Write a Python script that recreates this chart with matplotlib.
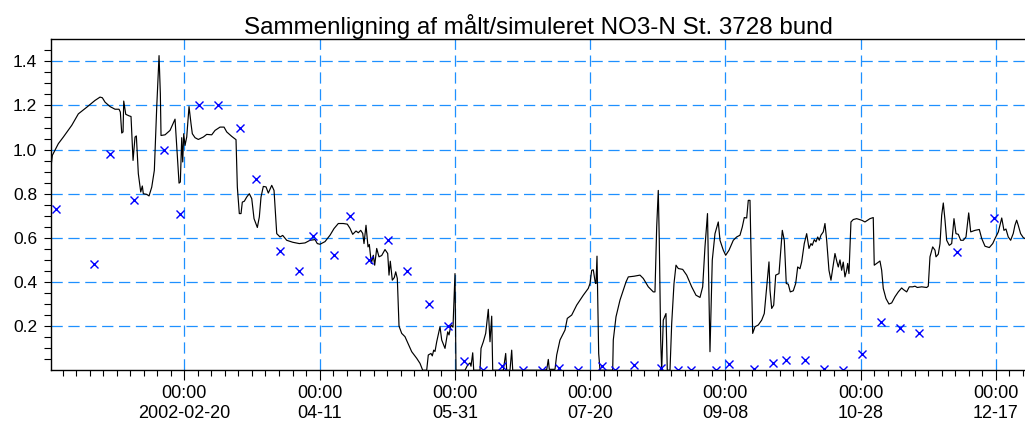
import numpy as np
import matplotlib
matplotlib.use('Agg')
import matplotlib.pyplot as plt
import matplotlib.dates as mdates
from matplotlib.ticker import FixedLocator, FixedFormatter

plt.rcParams['font.family'] = ['Liberation Sans', 'DejaVu Sans']

# dage efter 2002-01-01 00:00
sim_days = [0.74, 1.22, 3.44, 5.29, 8.39, 10.83, 13.93, 17.0, 18.85, 19.7, 20.7, 22.55, 24.39, 25.87, 26.35,
            26.87, 27.35, 27.61, 28.35, 29.57, 30.3, 31.05, 31.78, 32.27, 33.0, 33.89, 34.48, 34.85, 36.11,
            36.96, 37.96, 38.92, 39.8, 40.66, 41.14, 41.39, 42.87, 44.72, 46.57, 47.31, 48.05, 48.53, 49.04,
            49.41, 49.78, 50.26, 50.89, 51.74, 52.48, 52.96, 53.96, 55.18, 57.03, 58.28, 60.13, 61.35, 63.2,
            64.68, 65.68, 67.52, 69.11, 69.6, 70.33, 70.96, 71.44, 72.18, 73.07, 74.03, 74.92, 75.77, 76.99,
            77.73, 78.35, 79.2, 80.2, 81.05, 82.31, 83.16, 84.16, 85.38, 86.37, 87.85, 90.07, 92.51, 94.62,
            96.46, 98.31, 99.16, 100.16, 102.01, 103.86, 105.33, 106.92, 108.77, 110.25, 111.25, 112.24,
            113.46, 114.31, 115.2, 115.94, 116.42, 117.16, 117.9, 118.38, 119.12, 119.86, 120.37, 121.11,
            121.96, 122.96, 124.18, 125.18, 125.66, 126.14, 126.88, 127.62, 128.14, 128.73, 129.36, 130.35,
            131.57, 134.05, 135.9, 137.12, 138.11, 139.59, 140.18, 141.18, 141.66, 142.18, 142.66, 143.29,
            144.51, 145.14, 146.36, 147.36, 147.84, 148.58, 149.31, 150.05, 150.42, 153.75, 154.75, 155.6,
            155.97, 156.6, 156.97, 159.3, 159.67, 160.52, 161.4, 162.36, 162.99, 163.62, 163.99, 167.91,
            168.79, 169.16, 170.38, 171.01, 171.38, 181.47, 183.94, 184.54, 184.91, 187.01, 187.64, 188.86,
            190.71, 191.56, 193.19, 195.03, 197.47, 199.32, 199.95, 200.58, 201.17, 201.91, 202.17, 202.54,
            203.16, 203.65, 208.34, 208.56, 209.56, 211.04, 212.26, 213.26, 214.11, 216.21, 218.43, 219.65,
            221.5, 223.35, 223.97, 224.6, 225.19, 225.56, 226.08, 226.45, 227.04, 228.04, 228.52, 229.52,
            230.15, 231.0, 231.74, 232.59, 234.21, 235.69, 237.54, 239.13, 240.61, 241.6, 242.45, 243.38,
            244.3, 245.15, 246.15, 247.37, 248.0, 249.22, 250.11, 251.33, 252.92, 254.17, 255.39, 256.24,
            256.98, 257.87, 258.46, 259.09, 260.08, 260.93, 262.15, 263.41, 264.37, 265.26, 266.11, 266.48,
            267.11, 267.85, 268.59, 269.81, 271.03, 271.77, 272.5, 273.24, 273.98, 275.09, 275.98, 276.72,
            277.56, 278.19, 279.15, 280.04, 280.89, 281.63, 282.11, 282.85, 283.48, 284.11, 284.7, 285.32,
            286.18, 286.8, 287.43, 288.28, 289.02, 289.87, 290.5, 291.24, 291.72, 292.35, 292.97, 293.56,
            294.19, 294.82, 295.19, 295.67, 296.41, 297.26, 298.52, 300.36, 301.58, 303.43, 304.65, 305.02,
            306.13, 307.13, 307.76, 308.35, 309.35, 310.46, 311.46, 312.68, 313.9, 315.16, 315.75, 317.01,
            317.97, 319.22, 320.07, 320.92, 322.55, 324.4, 324.99, 325.62, 326.62, 327.47, 327.84, 328.69,
            329.32, 329.94, 330.54, 331.17, 331.79, 332.75, 333.64, 334.49, 335.23, 336.08, 336.97, 337.93,
            338.93, 339.93, 340.67, 342.26, 343.85, 344.74, 345.96, 347.55, 348.81, 349.66, 350.88, 352.14,
            352.96, 353.7, 354.55, 355.44, 356.4, 357.02, 357.65, 358.24, 359.12, 360.1, 360.71]
sim_vals = [0.924, 0.974, 1.027, 1.057, 1.11, 1.162, 1.192, 1.223, 1.238, 1.235, 1.215, 1.195, 1.183, 1.183, 1.17,
            1.075, 1.08, 1.22, 1.16, 1.153, 1.15, 0.951, 1.057, 1.062, 0.891, 0.808, 0.835, 0.8, 0.797,
            0.79, 0.83, 0.906, 1.192, 1.426, 1.253, 1.064, 1.067, 1.087, 1.138, 0.989, 0.848, 0.853, 1.054,
            0.944, 1.072, 1.019, 1.057, 1.195, 1.117, 1.072, 1.054, 1.046, 1.057, 1.069, 1.067, 1.087, 1.102,
            1.102, 1.08, 1.06, 1.045, 0.83, 0.71, 0.71, 0.762, 0.766, 0.785, 0.8, 0.778, 0.687, 0.647,
            0.695, 0.785, 0.833, 0.831, 0.803, 0.838, 0.815, 0.619, 0.604, 0.611, 0.589, 0.58, 0.574, 0.577,
            0.589, 0.592, 0.574, 0.571, 0.583, 0.612, 0.642, 0.665, 0.665, 0.662, 0.643, 0.616,
            0.631, 0.623, 0.634, 0.62, 0.574, 0.657, 0.559, 0.57, 0.484, 0.521, 0.476, 0.552,
            0.514, 0.52, 0.547, 0.529, 0.431, 0.494, 0.408, 0.42, 0.446, 0.416, 0.2, 0.167,
            0.152, 0.084, 0.054, 0.031, 0.0, 0.0, 0.069, 0.076, 0.065, 0.091, 0.085, 0.129,
            0.197, 0.137, 0.099, 0.174, 0.16, 0.205, 0.195, 0.438, 0.0, 0.0, 0.024, 0.033,
            0.018, 0.079, 0.0, 0.0, 0.099, 0.129, 0.167, 0.276, 0.129, 0.245, 0.0, 0.0,
            0.076, 0.0, 0.0, 0.091, 0.0, 0.0, 0.002, 0.049, 0.004, 0.004, 0.069, 0.137,
            0.182, 0.235, 0.25, 0.295, 0.34, 0.371, 0.393, 0.453, 0.455, 0.396, 0.393, 0.517,
            0.076, 0.0, 0.0, 0.137, 0.242, 0.318, 0.363, 0.4, 0.423, 0.426, 0.431, 0.416,
            0.378, 0.355, 0.355, 0.649, 0.815, 0.589, 0.137, 0.0, 0.227, 0.257, 0.0, 0.0,
            0.212, 0.393, 0.476, 0.461, 0.457, 0.431, 0.378, 0.34, 0.33, 0.378, 0.559, 0.71,
            0.084, 0.499, 0.619, 0.672, 0.589, 0.544, 0.521, 0.544, 0.589, 0.604, 0.612, 0.649,
            0.692, 0.69, 0.77, 0.77, 0.167, 0.197, 0.205, 0.227, 0.257, 0.378, 0.491, 0.363,
            0.28, 0.295, 0.431, 0.438, 0.634, 0.589, 0.393, 0.39, 0.355, 0.36, 0.393, 0.468,
            0.46, 0.491, 0.574, 0.619, 0.552, 0.574, 0.566, 0.592, 0.582, 0.604, 0.589, 0.612,
            0.627, 0.665, 0.589, 0.453, 0.408, 0.476, 0.529, 0.49, 0.468, 0.5, 0.453, 0.49,
            0.423, 0.453, 0.484, 0.438, 0.672, 0.683, 0.687, 0.68, 0.672, 0.687, 0.692, 0.476,
            0.486, 0.495, 0.453, 0.371, 0.325, 0.3, 0.305, 0.333, 0.355, 0.373, 0.366, 0.355,
            0.378, 0.378, 0.381, 0.375, 0.378, 0.375, 0.381, 0.514, 0.559, 0.544, 0.514, 0.526,
            0.573, 0.702, 0.758, 0.68, 0.589, 0.566, 0.574, 0.687, 0.619, 0.616, 0.589, 0.589,
            0.604, 0.713, 0.627, 0.634, 0.638, 0.597, 0.562, 0.556, 0.574, 0.597, 0.627, 0.69,
            0.634, 0.64, 0.604, 0.589, 0.62, 0.657, 0.68, 0.657, 0.619, 0.601, 0.597]

# maalinger
obs_days = [2.59, 16.52, 22.55, 31.53, 42.5, 48.53, 55.44, 62.46, 70.48, 76.5, 85.49, 92.4, 97.46, 105.44,
            111.36, 118.38, 125.4, 132.42, 140.44, 147.47, 153.49, 160.29, 167.31, 175.3, 182.32, 188.38,
            195.4, 204.38, 209.3, 216.32, 226.3, 232.36, 237.27, 246.51, 251.32, 260.45, 267.47, 272.39,
            279.41, 286.43, 293.34, 300.48, 307.39, 314.41, 321.43, 335.48, 349.26]
obs_vals = [0.729, 0.48, 0.979, 0.77, 1.0, 0.709, 1.2, 1.2, 1.1, 0.869, 0.54, 0.45, 0.609, 0.52,
            0.7, 0.499, 0.59, 0.45, 0.3, 0.2, 0.042, 0.002, 0.02, 0.0, 0.0, 0.011,
            0.0, 0.02, 0.002, 0.024, 0.011, 0.002, 0.002, 0.002, 0.027, 0.005, 0.032, 0.046,
            0.045, 0.005, 0.002, 0.075, 0.22, 0.19, 0.17, 0.538, 0.69]

tick_dates = ['2002-02-20', '2002-04-11', '2002-05-31', '2002-07-20', '2002-09-08', '2002-10-28', '2002-12-17']
tick_labels = ['00:00\n2002-02-20', '00:00\n04-11', '00:00\n05-31', '00:00\n07-20',
               '00:00\n09-08', '00:00\n10-28', '00:00\n12-17']
y_ticks = [0.2, 0.4, 0.6, 0.8, 1.0, 1.2, 1.4]

start = np.datetime64('2002-01-01T00:00:00')


def to_time(days):
    return start + (np.asarray(days, dtype=float) * 86400).round().astype('timedelta64[s]')


fig = plt.figure(figsize=(10.25, 4.28), dpi=100)
ax = fig.add_axes([0.0498, 0.135, 0.9502, 0.7732])

grid_style = dict(color='#1e90ff', lw=0.9, ls=(0, (9, 4.5)))
ax.grid(True, which='major', **grid_style)

ax.plot(to_time(sim_days), sim_vals, color='black', lw=0.85)
ax.plot(to_time(obs_days), obs_vals, 'x', color='#0000ff', ms=5.5, mew=1)

ax.set_xlim(to_time(0.74), to_time(360.74))
ax.set_ylim(0, 1.5)

major = mdates.date2num(np.array(tick_dates, dtype='datetime64[D]'))
ax.xaxis.set_major_locator(FixedLocator(major))
ax.xaxis.set_major_formatter(FixedFormatter(tick_labels))
ax.xaxis.set_minor_locator(FixedLocator(major[0] + np.arange(-50, 320, 5)))

ax.set_yticks(y_ticks)
ax.set_yticklabels(['%.1f' % v for v in y_ticks])
ax.yaxis.set_minor_locator(FixedLocator(np.arange(0.05, 1.5, 0.05)))

ax.tick_params(axis='x', which='major', length=7.2, width=0.8, pad=3.5, labelsize=13)
ax.tick_params(axis='x', which='minor', length=4.3, width=0.8)
ax.tick_params(axis='y', which='both', length=5, width=0.8, pad=5, labelsize=12.5)

for s in ['left', 'bottom', 'top']:
    ax.spines[s].set_linewidth(1.0)
ax.spines['right'].set_visible(False)

ax.set_title('Sammenligning af målt/simuleret NO3-N St. 3728 bund', fontsize=17.4, pad=2)

fig.savefig('out.png', dpi=100)
